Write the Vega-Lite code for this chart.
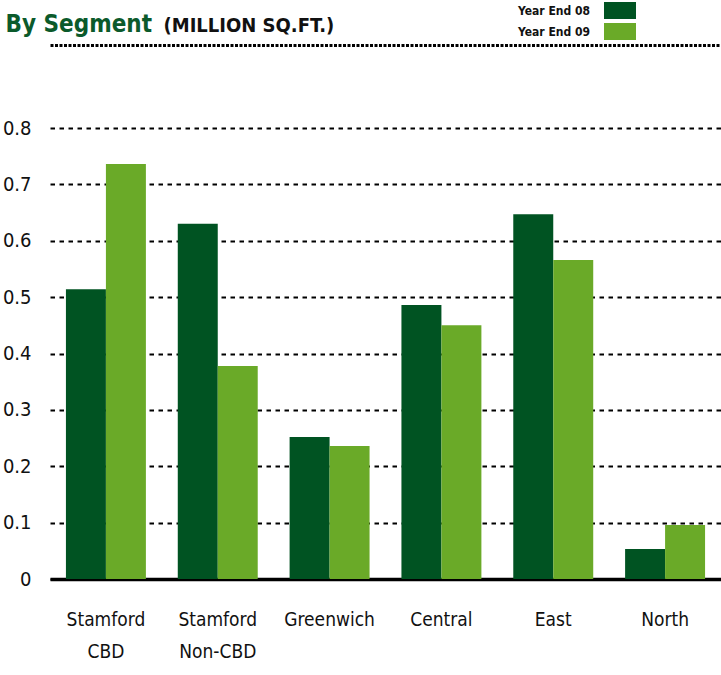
{
  "$schema": "https://vega.github.io/schema/vega-lite/v6.json",
  "width": 671,
  "height": 451,
  "autosize": {"type": "none"},
  "padding": {"left": 50, "top": 128, "right": 0, "bottom": 96},
  "background": "white",
  "config": {
    "view": {"stroke": null},
    "font": "DejaVu Sans Condensed, Roboto, sans-serif"
  },
  "data": {
    "values": [
      {"segment": "Stamford CBD", "year": "Year End 08", "value": 0.514},
      {"segment": "Stamford CBD", "year": "Year End 09", "value": 0.736},
      {"segment": "Stamford Non-CBD", "year": "Year End 08", "value": 0.63},
      {"segment": "Stamford Non-CBD", "year": "Year End 09", "value": 0.378},
      {"segment": "Greenwich", "year": "Year End 08", "value": 0.252},
      {"segment": "Greenwich", "year": "Year End 09", "value": 0.236},
      {"segment": "Central", "year": "Year End 08", "value": 0.486},
      {"segment": "Central", "year": "Year End 09", "value": 0.45},
      {"segment": "East", "year": "Year End 08", "value": 0.647},
      {"segment": "East", "year": "Year End 09", "value": 0.566},
      {"segment": "North", "year": "Year End 08", "value": 0.053},
      {"segment": "North", "year": "Year End 09", "value": 0.096}
    ]
  },
  "layer": [
    {
      "mark": {"type": "bar"},
      "encoding": {
        "x": {
          "field": "segment", "type": "nominal", "sort": null,
          "scale": {"paddingInner": 0.285, "paddingOuter": 0.1425},
          "axis": {
            "orient": "bottom", "title": null, "labelAngle": 0,
            "labelExpr": "split(datum.label, ' ')",
            "labelFont": "DejaVu Sans Condensed, Roboto, sans-serif", "labelFontSize": 19,
            "labelColor": "#111111", "labelBaseline": "top",
            "labelLineHeight": 32, "labelPadding": 31,
            "ticks": false, "domain": true, "domainColor": "#000000",
            "domainWidth": 3.5, "grid": false
          }
        },
        "xOffset": {"field": "year", "type": "nominal"},
        "y": {
          "field": "value", "type": "quantitative",
          "scale": {"domain": [0, 0.8], "nice": false},
          "axis": {
            "values": [0, 0.1, 0.2, 0.3, 0.4, 0.5, 0.6, 0.7, 0.8],
            "format": ".1~f",
            "labelFont": "DejaVu Sans Condensed, Roboto, sans-serif", "labelFontSize": 20,
            "labelColor": "#111111", "labelPadding": 19,
            "ticks": false, "domain": false,
            "grid": true, "gridColor": "#000000", "gridDash": [4.5, 4.5], "gridWidth": 2.2,
            "title": "(MILLION SQ.FT.)", "titleAngle": 0, "titleX": 113, "titleY": -97,
            "titleAlign": "left", "titleBaseline": "alphabetic",
            "titleFont": "DejaVu Sans Condensed, Roboto, sans-serif", "titleFontSize": 20,
            "titleFontWeight": "bold", "titleColor": "#111111"
          }
        },
        "color": {
          "field": "year", "type": "nominal",
          "scale": {"domain": ["Year End 08", "Year End 09"], "range": ["#005322", "#6aaa28"]},
          "legend": {
            "orient": "none", "legendX": 562, "legendY": -125.5,
            "direction": "vertical", "title": null, "padding": 0,
            "symbolType": "M-2,-1.06H2V1.06H-2Z", "symbolSize": 256,
            "symbolStrokeWidth": 0, "rowPadding": 3,
            "labelAlign": "right", "labelOffset": -38,
            "labelFont": "DejaVu Sans Condensed, Roboto, sans-serif", "labelFontSize": 12,
            "labelFontWeight": "bold", "labelColor": "#111111"
          }
        }
      }
    },
    {
      "mark": {"type": "bar", "opacity": 0},
      "encoding": {
        "x": {
          "field": "segment", "type": "nominal", "sort": null,
          "axis": {
            "orient": "top", "labels": false, "ticks": false, "grid": false,
            "domain": true, "domainColor": "#000000", "domainDash": [3, 1.5],
            "domainWidth": 3, "offset": 83,
            "title": "By Segment", "titleX": -45, "titleY": -14,
            "titleAlign": "left", "titleBaseline": "alphabetic",
            "titleFont": "DejaVu Sans Condensed, Roboto, sans-serif", "titleFontSize": 24,
            "titleFontWeight": "bold", "titleColor": "#0b5a2b"
          }
        },
        "y": {"field": "value", "type": "quantitative"}
      }
    }
  ],
  "resolve": {"axis": {"x": "independent"}}
}
